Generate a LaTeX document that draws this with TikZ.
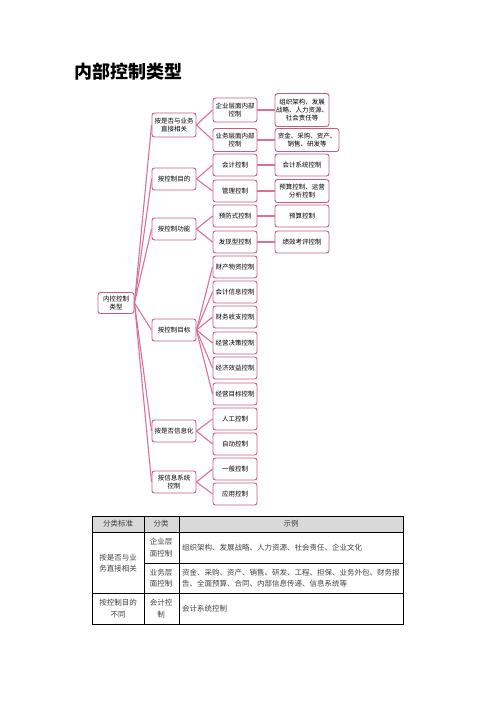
\documentclass[tikz,border=0pt]{standalone}
\usepackage{fontspec}
\setmainfont{Noto Sans CJK SC}
\definecolor{pinkline}{RGB}{219,112,147}
\definecolor{pinkbox}{RGB}{200,92,128}
\definecolor{headgray}{RGB}{217,217,217}
\definecolor{tabtext}{RGB}{64,64,64}
\tikzset{
  box/.style={draw=pinkbox, line width=0.9pt, rounded corners=2.5pt, fill=white,
    align=center, font=\fontsize{6.5}{8}\selectfont, inner sep=1pt,
    minimum width=44pt, minimum height=22pt},
  link/.style={draw=pinkline, line width=1.1pt},
  cell/.style={font=\fontsize{7.5}{11.5}\selectfont, text=tabtext, align=center, inner sep=0pt},
}

\begin{document}
\begin{tikzpicture}[x=1pt,y=-1pt]
  \useasboundingbox (0,0) rectangle (496,702);
  \node[font=\fontsize{18}{20}\selectfont\bfseries, anchor=west, inner sep=0pt] (title) at (74,72) {内部控制类型};

  % mind map
  \node[box, minimum width=36pt, minimum height=21pt] (root) at (116,303) {内控控制\\类型};

  \node[box, minimum height=24pt] (a) at (174,125) {按是否与业务\\直接相关};
  \node[box] (b) at (174,179) {按控制目的};
  \node[box] (c) at (174,229) {按控制功能};
  \node[box] (d) at (174,330) {按控制目标};
  \node[box] (e) at (174,431) {按是否信息化};
  \node[box] (f) at (174,482) {按信息系统\\控制};

  \node[box, minimum height=24pt] (a1) at (235,110) {企业层面内部\\控制};
  \node[box, minimum height=23pt] (a2) at (235,140) {业务层面内部\\控制};
  \node[box] (b1) at (235,165) {会计控制};
  \node[box] (b2) at (235,191) {管理控制};
  \node[box] (c1) at (235,216) {预防式控制};
  \node[box] (c2) at (235,242) {发现型控制};
  \node[box] (d1) at (235,267) {财产物资控制};
  \node[box] (d2) at (235,292) {会计信息控制};
  \node[box] (d3) at (235,317) {财务收支控制};
  \node[box] (d4) at (235,343) {经营决策控制};
  \node[box] (d5) at (235,368) {经济效益控制};
  \node[box] (d6) at (235,394) {经营目标控制};
  \node[box] (e1) at (235,419) {人工控制};
  \node[box] (e2) at (235,444) {自动控制};
  \node[box] (f1) at (235,469) {一般控制};
  \node[box] (f2) at (235,494) {应用控制};

  \node[box, minimum width=54pt, minimum height=33pt] (a1x) at (302,110) {组织架构、发展\\战略、人力资源、\\社会责任等};
  \node[box, minimum width=64pt, minimum height=23pt] (a2x) at (307,140) {资金、采购、资产、\\销售、研发等};
  \node[box, minimum width=54pt] (b1x) at (302,165) {会计系统控制};
  \node[box, minimum width=54pt, minimum height=23pt] (b2x) at (302,191) {预算控制、运营\\分析控制};
  \node[box, minimum width=54pt] (c1x) at (302,216) {预算控制};
  \node[box, minimum width=54pt] (c2x) at (302,242) {绩效考评控制};

  \path[link]
    (root.east) edge (a.west) edge (b.west) edge (c.west)
                edge (d.west) edge (e.west) edge (f.west)
    (a.east) edge (a1.west) edge (a2.west)
    (b.east) edge (b1.west) edge (b2.west)
    (c.east) edge (c1.west) edge (c2.west)
    (d.east) edge (d1.west) edge (d2.west) edge (d3.west)
             edge (d4.west) edge (d5.west) edge (d6.west)
    (e.east) edge (e1.west) edge (e2.west)
    (f.east) edge (f1.west) edge (f2.west)
    (a1) edge (a1x) (a2) edge (a2x) (b1) edge (b1x)
    (b2) edge (b2x) (c1) edge (c1x) (c2) edge (c2x);

  % table
  \fill[headgray] (92,516) rectangle (403,532);
  \draw[line width=1pt] (92,516) rectangle (403,624);
  \draw[line width=1pt] (92,532) -- (403,532) (92,593) -- (403,593) (144,563) -- (403,563)
    (144,516) -- (144,624) (179,516) -- (179,624);

  \node[cell] (h1) at (118,524) {分类标准};
  \node[cell] (h2) at (161,524) {分类};
  \node[cell] (h3) at (291,524) {示例};
  \node[cell] (k1) at (118,563) {按是否与业\\务直接相关};
  \node[cell] (k2) at (118,608.5) {按控制目的\\不同};
  \node[cell] (s1) at (161,547.5) {企业层\\面控制};
  \node[cell] (s2) at (161,578) {业务层\\面控制};
  \node[cell] (s3) at (161,608.5) {会计控\\制};
  \node[cell, anchor=west] (x1) at (182,547.5) {组织架构、发展战略、人力资源、社会责任、企业文化};
  \node[cell, anchor=west, align=left] (x2) at (182,578)
    {资金、采购、资产、销售、研发、工程、担保、业务外包、财务报\\告、全面预算、合同、内部信息传递、信息系统等};
  \node[cell, anchor=west] (x3) at (182,608.5) {会计系统控制};
\end{tikzpicture}
\end{document}
